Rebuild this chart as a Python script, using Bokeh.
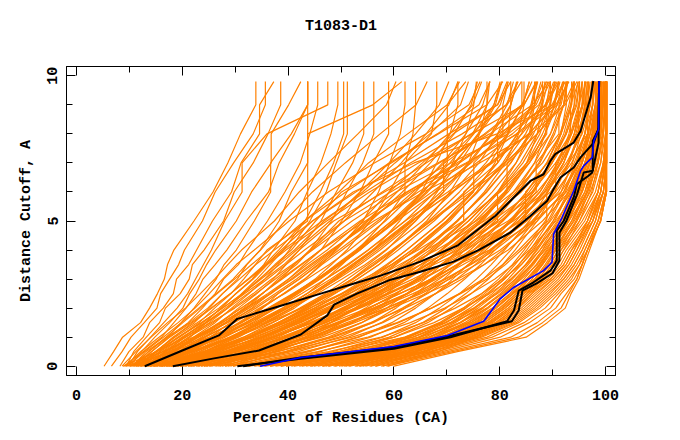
from bokeh.plotting import figure
from bokeh.models import Range1d, LinearAxis, SingleIntervalTicker, CustomJSTickFormatter
from bokeh.embed import file_html
from bokeh.resources import INLINE

TITLE = "T1083-D1"
X_LABEL = "Percent of Residues (CA)"
Y_LABEL = "Distance Cutoff, A"

# distance cutoffs at which every model curve is sampled
CUTOFF = [0.0, 0.5, 1.0, 1.5, 2.0, 2.5, 3.0, 3.5, 4.0, 5.0, 6.0, 7.0, 8.0, 9.0, 9.8]

# percent of residues per model (orange curves), grouped
POOR_A = [
    [5.2, 7.0, 8.7, 12.1, 13.8, 15.3, 16.6, 17.2, 18.4, 22.2, 25.8, 28.6, 31.0, 33.9, 33.9],
    [6.6, 8.6, 10.3, 12.8, 15.2, 15.9, 17.6, 19.3, 20.4, 23.8, 26.2, 29.7, 33.4, 35.7, 35.7],
    [8.2, 9.9, 12.6, 13.8, 16.4, 18.3, 18.9, 21.2, 22.7, 25.7, 29.3, 31.1, 34.6, 34.6, 37.3],
    [9.4, 10.8, 13.2, 15.7, 16.8, 19.6, 21.3, 21.9, 24.1, 27.8, 29.8, 33.4, 36.2, 38.6, 38.6],
    [10.1, 12.3, 14.8, 17.6, 20.1, 21.4, 23.2, 24.6, 26.3, 30.2, 33.1, 36.8, 36.8, 40.1, 42.4],
    [8.9, 12.6, 16.1, 18.4, 20.7, 22.6, 23.9, 26.2, 28.4, 32.1, 36.3, 38.3, 41.2, 43.7, 43.7],
    [10.6, 13.1, 17.2, 19.8, 22.2, 24.3, 26.4, 27.9, 30.2, 33.6, 36.7, 36.7, 40.6, 43.7, 43.7],
    [11.2, 14.2, 17.4, 21.1, 23.8, 26.2, 27.8, 30.6, 32.3, 36.1, 39.4, 42.3, 44.1, 45.6, 45.6],
]
POOR_B = [
    [12.1, 15.6, 19.3, 23.2, 26.1, 29.2, 31.6, 33.8, 36.0, 43.7, 43.7, 43.7, 43.7, 43.7, 43.7],
    [12.4, 16.2, 20.1, 24.3, 27.2, 30.1, 33.2, 35.4, 37.2, 41.3, 43.6, 46.2, 48.1, 49.4, 49.4],
    [13.1, 17.2, 21.2, 25.1, 28.6, 31.2, 34.1, 36.6, 39.1, 43.2, 46.1, 48.6, 50.5, 50.5, 50.5],
    [13.6, 18.1, 22.1, 26.2, 29.3, 32.6, 35.6, 38.1, 40.2, 44.1, 47.2, 49.1, 51.2, 51.2, 51.2],
    [14.1, 18.6, 22.7, 27.2, 30.6, 34.1, 37.2, 39.6, 42.1, 46.2, 49.1, 52.2, 54.3, 54.3, 54.3],
    [14.6, 19.2, 23.6, 28.1, 32.2, 35.1, 38.6, 41.2, 44.1, 48.2, 51.1, 54.1, 56.2, 56.2, 56.2],
    [15.1, 20.1, 25.2, 29.1, 33.1, 36.6, 40.1, 43.1, 46.2, 50.1, 53.6, 56.1, 59.0, 59.0, 59.0],
    [9.8, 11.5, 14.0, 16.5, 19.0, 21.0, 22.5, 24.0, 25.5, 28.0, 31.3, 31.3, 36.0, 47.5, 47.5],
    [11.6, 15.1, 18.2, 22.3, 25.1, 27.6, 30.4, 32.2, 34.7, 38.3, 40.6, 43.7, 43.7, 56.0, 61.5],
]
CROSS = [
    [9.2, 12.1, 15.6, 19.2, 22.4, 25.1, 27.6, 30.2, 33.6, 40.2, 47.6, 56.3, 66.1, 74.2, 76.3],
    [10.4, 13.6, 17.1, 21.3, 24.8, 27.6, 30.8, 33.9, 37.4, 44.6, 52.8, 61.9, 70.4, 79.6, 82.1],
    [11.3, 14.9, 18.6, 22.8, 26.9, 30.2, 33.4, 36.1, 39.6, 47.3, 55.4, 64.6, 74.8, 84.6, 86.9],
    [12.2, 15.8, 19.9, 24.4, 28.1, 31.8, 35.6, 39.2, 42.1, 48.6, 58.2, 68.3, 78.1, 86.2, 89.4],
    [12.8, 16.9, 21.2, 25.8, 29.6, 33.4, 36.9, 40.8, 44.6, 52.1, 60.4, 70.8, 81.6, 88.9, 91.2],
    [13.4, 17.6, 22.4, 27.1, 31.2, 35.1, 38.6, 42.4, 46.2, 54.6, 63.1, 73.6, 83.4, 90.6, 93.1],
    [14.2, 18.4, 23.1, 28.2, 32.6, 36.8, 40.6, 44.2, 48.1, 56.2, 65.6, 76.2, 85.9, 92.4, 94.6],
    [10.8, 14.1, 17.6, 21.6, 25.4, 29.1, 32.4, 35.6, 38.2, 43.1, 49.6, 55.2, 62.6, 70.1, 72.4],
    [9.6, 12.8, 16.4, 19.8, 23.1, 26.4, 29.6, 32.1, 34.8, 39.4, 44.6, 50.8, 57.4, 64.2, 66.3],
    [11.9, 15.2, 19.1, 23.6, 27.6, 31.4, 34.6, 37.8, 41.2, 46.8, 54.1, 60.2, 66.8, 72.6, 74.1],
    [13.8, 18.1, 22.9, 27.6, 31.9, 36.2, 40.1, 43.6, 47.4, 53.9, 59.1, 65.4, 71.2, 79.6, 81.4],
    [15.8, 20.9, 26.1, 30.6, 34.9, 39.2, 43.2, 46.4, 50.2, 57.4, 63.6, 69.6, 77.1, 84.2, 86.1],
    [16.9, 22.6, 28.1, 33.2, 37.6, 41.9, 45.6, 49.1, 52.8, 59.6, 67.2, 74.6, 80.9, 87.4, 89.6],
    [17.8, 24.2, 30.6, 35.8, 40.6, 44.9, 48.6, 52.2, 56.1, 63.2, 71.1, 78.4, 84.2, 88.6, 90.2],
    [8.6, 11.2, 14.1, 17.2, 20.6, 23.4, 26.1, 28.6, 31.2, 37.4, 42.1, 47.6, 53.2, 58.6, 60.4],
]
CROSS2 = [
    [16.1, 21.4, 26.9, 32.1, 36.9, 41.4, 45.6, 49.6, 53.4, 60.6, 67.9, 75.6, 83.1, 89.9, 92.1],
    [14.6, 19.4, 24.4, 29.4, 33.9, 38.1, 42.1, 45.9, 49.6, 56.9, 64.6, 73.9, 82.4, 88.6, 90.9],
    [13.9, 18.1, 22.6, 26.9, 31.1, 35.1, 38.9, 42.6, 46.1, 53.6, 62.4, 71.9, 80.6, 86.9, 88.9],
    [12.9, 16.6, 20.6, 24.6, 28.6, 32.4, 36.1, 39.6, 43.1, 50.6, 59.4, 68.6, 77.4, 84.6, 87.1],
    [11.6, 14.9, 18.4, 21.9, 25.6, 29.1, 32.6, 35.9, 39.1, 46.4, 54.6, 63.1, 72.9, 81.4, 84.1],
    [10.9, 13.6, 16.9, 20.1, 23.4, 26.6, 29.9, 33.1, 36.4, 43.1, 50.9, 59.1, 68.4, 77.6, 80.6],
    [17.4, 23.4, 29.4, 34.9, 39.9, 44.4, 48.6, 52.6, 56.4, 63.4, 70.9, 78.6, 85.4, 90.9, 92.9],
    [19.1, 25.9, 32.4, 38.1, 43.4, 48.1, 52.4, 56.4, 60.1, 66.9, 73.9, 80.9, 87.1, 92.1, 94.1],
]
LOW = [
    [8.8, 15.1, 20.6, 25.4, 29.9, 33.9, 37.6, 41.1, 44.4, 50.6, 56.1, 61.4, 66.1, 70.4, 72.1],
    [9.3, 16.4, 22.9, 28.6, 33.4, 37.6, 41.6, 45.1, 48.6, 54.9, 60.6, 65.9, 70.6, 74.9, 76.6],
    [10.6, 18.1, 25.1, 31.1, 36.4, 41.1, 45.4, 49.4, 53.1, 59.6, 65.4, 70.6, 75.1, 78.9, 80.4],
    [11.1, 19.9, 27.6, 34.1, 39.6, 44.4, 48.9, 53.1, 56.9, 63.6, 69.4, 74.4, 78.6, 82.1, 83.4],
    [12.1, 21.9, 30.1, 36.9, 42.6, 47.6, 52.1, 56.1, 59.9, 66.6, 72.4, 77.4, 81.4, 84.4, 85.6],
    [13.9, 23.9, 32.4, 39.4, 45.1, 50.1, 54.6, 58.6, 62.4, 69.1, 74.9, 79.6, 83.4, 86.1, 87.1],
    [14.4, 25.9, 35.1, 42.4, 48.1, 53.1, 57.6, 61.6, 65.4, 71.9, 77.6, 82.1, 85.6, 88.1, 89.1],
    [16.1, 27.9, 37.4, 44.6, 50.4, 55.4, 59.9, 63.9, 67.6, 74.1, 79.6, 83.9, 87.1, 89.4, 90.4],
    [16.9, 29.9, 39.9, 47.1, 52.9, 57.9, 62.4, 66.4, 70.1, 76.4, 81.6, 85.6, 88.6, 90.9, 91.9],
    [18.9, 31.9, 42.1, 49.6, 55.4, 60.4, 64.9, 68.9, 72.4, 78.6, 83.4, 87.4, 90.1, 92.1, 92.9],
    [19.6, 33.9, 44.4, 51.9, 57.6, 62.6, 66.9, 70.9, 74.4, 80.4, 85.1, 88.9, 91.4, 93.1, 93.9],
    [21.1, 35.9, 46.4, 53.9, 59.6, 64.4, 68.6, 72.4, 75.9, 81.9, 86.4, 89.9, 92.4, 94.1, 94.8],
    [22.6, 37.9, 48.6, 56.1, 61.6, 66.4, 70.4, 74.1, 77.4, 83.1, 87.6, 90.9, 93.4, 94.9, 95.6],
    [24.1, 39.6, 50.4, 57.9, 63.4, 67.9, 71.9, 75.4, 78.6, 84.1, 88.4, 91.6, 94.1, 95.6, 96.2],
    [10.1, 14.9, 19.4, 23.6, 27.6, 31.4, 34.9, 38.4, 41.6, 47.9, 53.6, 59.1, 64.1, 68.6, 70.4],
    [12.9, 20.4, 26.9, 32.6, 37.4, 41.9, 46.1, 49.9, 53.6, 60.1, 66.1, 71.4, 76.1, 80.1, 81.6],
    [15.1, 24.9, 33.6, 40.6, 46.1, 51.1, 55.6, 59.6, 63.4, 70.1, 75.9, 80.9, 84.9, 87.6, 88.6],
    [17.9, 28.9, 38.6, 45.9, 51.6, 56.6, 61.1, 65.1, 68.9, 75.4, 80.9, 85.1, 88.1, 90.4, 91.4],
]
MID_A = [
    [15.6, 21.2, 26.1, 31.2, 35.1, 39.2, 43.1, 46.2, 49.1, 54.2, 57.1, 59.2, 61.2, 62.1, 62.1],
    [16.1, 22.1, 27.6, 32.1, 36.6, 41.2, 45.1, 48.2, 51.1, 55.6, 59.1, 62.2, 63.6, 64.1, 64.1],
    [16.6, 23.1, 29.1, 34.2, 39.1, 43.6, 47.1, 50.2, 53.1, 58.2, 62.1, 62.1, 67.1, 68.1, 68.1],
    [17.1, 24.1, 30.2, 36.1, 41.2, 45.1, 49.2, 52.6, 56.1, 61.1, 65.2, 68.1, 70.6, 72.1, 72.1],
    [17.6, 25.2, 31.6, 37.1, 42.2, 47.1, 51.2, 55.1, 58.6, 64.1, 68.2, 71.1, 73.6, 75.1, 75.6],
    [18.1, 26.1, 32.2, 38.6, 43.6, 48.2, 53.1, 57.2, 60.1, 66.2, 70.6, 74.1, 76.2, 77.6, 78.1],
    [19.1, 27.2, 34.1, 40.2, 46.1, 51.6, 56.2, 60.1, 64.2, 70.6, 75.6, 79.1, 81.6, 82.1, 82.1],
    [20.6, 28.6, 35.6, 42.1, 48.6, 54.1, 59.1, 63.6, 67.6, 74.1, 79.6, 83.1, 85.6, 86.6, 86.6],
    [22.1, 30.1, 37.2, 44.1, 50.6, 56.1, 62.1, 66.1, 70.6, 77.6, 83.1, 86.6, 88.6, 89.6, 89.6],
    [24.1, 32.6, 40.1, 47.1, 53.6, 60.1, 65.6, 70.6, 75.1, 82.1, 87.6, 91.1, 93.1, 94.1, 94.1],
    [26.1, 34.1, 42.1, 49.1, 56.1, 62.6, 68.1, 73.1, 78.1, 85.1, 90.1, 93.1, 95.1, 96.1, 96.1],
    [28.1, 36.1, 44.1, 51.1, 58.6, 65.1, 70.6, 75.6, 80.1, 87.1, 92.1, 95.1, 96.8, 97.5, 97.5],
]
MID_B = [
    [14.0, 17.5, 21.5, 24.5, 28.5, 31.5, 34.6, 37.5, 40.6, 45.2, 50.1, 59.5, 68.2, 76.1, 78.2],
    [15.2, 19.6, 24.1, 28.3, 31.6, 35.2, 38.1, 41.6, 44.2, 49.6, 57.8, 66.1, 74.6, 81.2, 83.5],
    [16.4, 21.6, 26.6, 30.9, 35.2, 38.1, 42.2, 45.6, 48.9, 55.1, 62.6, 72.4, 80.1, 86.6, 88.2],
    [18.6, 24.1, 29.6, 34.7, 39.5, 43.6, 47.1, 51.5, 55.2, 62.1, 70.2, 78.1, 85.6, 90.2, 91.2],
    [19.6, 26.6, 33.1, 38.2, 43.1, 47.6, 52.1, 55.6, 59.6, 67.1, 74.6, 81.6, 87.1, 91.6, 92.6],
    [21.1, 29.1, 36.6, 43.1, 49.1, 55.6, 60.6, 65.1, 69.1, 76.1, 81.1, 85.1, 87.1, 88.1, 88.1],
    [23.1, 31.6, 39.1, 46.1, 52.6, 58.6, 64.6, 69.1, 73.6, 80.6, 86.1, 89.6, 91.6, 92.6, 92.6],
    [25.1, 33.1, 41.1, 48.1, 55.1, 61.1, 67.1, 72.1, 76.6, 83.6, 89.1, 92.1, 94.1, 95.1, 95.1],
    [27.1, 35.1, 43.1, 50.1, 57.1, 63.6, 69.6, 74.6, 79.1, 86.1, 91.1, 94.1, 96.1, 96.8, 96.8],
    [29.1, 37.1, 45.1, 52.6, 59.6, 66.1, 72.1, 77.1, 81.6, 88.1, 93.1, 96.1, 97.6, 98.1, 98.1],
    [13.2, 16.8, 20.3, 23.9, 27.4, 30.1, 33.2, 35.8, 38.7, 44.6, 52.3, 63.8, 79.5, 90.1, 92.4],
    [20.1, 28.1, 35.1, 41.1, 47.1, 53.1, 57.6, 62.1, 66.1, 72.1, 77.1, 81.1, 83.6, 84.6, 84.6],
]
STEP = [
    [19.8, 27.9, 35.2, 41.6, 47.8, 53.6, 58.4, 62.9, 66.8, 73.2, 73.2, 79.6, 79.6, 84.2, 84.2],
    [21.6, 29.8, 37.4, 44.6, 51.2, 56.8, 61.9, 66.4, 70.2, 76.8, 81.4, 81.4, 86.1, 86.1, 87.2],
    [22.9, 31.4, 39.6, 46.9, 53.4, 59.1, 64.4, 68.9, 72.9, 79.6, 79.6, 85.2, 88.9, 88.9, 90.6],
    [24.6, 33.4, 41.9, 49.4, 56.1, 62.4, 67.4, 71.9, 75.9, 82.4, 86.9, 86.9, 91.2, 91.2, 92.9],
    [26.4, 35.6, 44.2, 51.9, 58.6, 64.6, 69.9, 74.4, 78.4, 84.9, 84.9, 89.9, 93.4, 93.4, 94.9],
    [17.9, 25.6, 32.9, 39.1, 44.9, 50.4, 55.1, 59.6, 63.4, 69.9, 75.1, 75.1, 80.6, 80.6, 81.6],
    [15.9, 22.6, 28.9, 34.6, 39.9, 44.9, 49.4, 53.6, 57.4, 64.1, 69.4, 69.4, 74.9, 77.6, 77.6],
    [14.9, 20.9, 26.4, 31.9, 36.9, 41.6, 45.9, 49.9, 53.6, 60.1, 65.6, 70.1, 70.1, 70.1, 73.6],
    [29.6, 39.4, 48.1, 55.6, 62.1, 67.9, 72.9, 77.1, 80.6, 86.4, 90.6, 90.6, 94.9, 94.9, 96.4],
    [32.4, 43.6, 53.1, 60.9, 67.1, 72.4, 76.9, 80.6, 83.6, 88.9, 88.9, 93.1, 96.6, 96.6, 97.9],
]
GOOD_C = [
    [13.5, 22.1, 29.6, 36.1, 42.6, 48.6, 54.1, 59.6, 64.6, 73.1, 80.1, 85.6, 89.6, 92.1, 92.6],
    [14.5, 24.1, 31.6, 38.1, 44.1, 50.1, 56.1, 61.1, 66.1, 75.6, 82.6, 88.1, 91.6, 93.6, 94.1],
    [15.5, 25.6, 33.1, 39.6, 45.6, 51.6, 57.1, 62.6, 68.1, 77.1, 84.1, 89.1, 92.6, 94.6, 95.1],
    [16.5, 27.1, 34.6, 41.1, 46.1, 52.6, 58.1, 64.1, 69.6, 78.6, 86.1, 90.6, 93.6, 95.6, 96.1],
    [17.5, 28.6, 36.1, 42.1, 47.6, 53.6, 59.6, 65.1, 71.1, 80.1, 87.1, 91.6, 94.6, 96.6, 97.1],
    [19.5, 30.6, 38.1, 43.6, 48.6, 54.6, 60.6, 66.6, 72.1, 81.6, 88.6, 92.6, 95.6, 97.1, 97.6],
    [21.5, 32.1, 39.6, 45.1, 50.1, 56.1, 62.1, 67.6, 73.6, 82.6, 89.6, 93.6, 96.1, 97.6, 98.1],
    [23.5, 33.6, 41.1, 46.6, 51.6, 57.6, 63.6, 69.1, 75.1, 84.1, 90.6, 94.6, 96.6, 98.1, 98.6],
    [25.5, 35.6, 43.1, 48.1, 53.1, 59.1, 65.1, 70.6, 76.6, 85.1, 91.6, 95.1, 97.1, 98.6, 99.1],
    [27.5, 37.6, 45.1, 50.1, 55.1, 61.1, 67.1, 72.1, 78.1, 86.6, 92.6, 95.6, 97.6, 98.8, 99.3],
    [18.5, 29.6, 37.1, 44.6, 51.1, 57.1, 62.6, 67.1, 71.6, 79.6, 85.6, 89.6, 92.1, 93.6, 93.6],
    [24.5, 34.6, 42.1, 49.6, 56.6, 62.6, 67.6, 72.1, 76.1, 83.6, 88.6, 92.1, 94.1, 95.6, 95.6],
]
BAND = [
    [10.2, 17.6, 24.1, 29.8, 34.6, 39.4, 43.6, 47.8, 51.6, 58.4, 64.1, 69.2, 73.6, 76.8, 78.1],
    [11.4, 19.6, 26.8, 32.6, 37.8, 42.6, 47.1, 51.2, 55.1, 62.1, 67.8, 72.4, 76.1, 79.2, 80.4],
    [12.6, 21.4, 29.2, 35.4, 40.6, 45.6, 50.2, 54.6, 58.4, 65.4, 71.2, 76.1, 79.6, 82.1, 83.2],
    [14.8, 24.6, 32.8, 39.1, 44.2, 48.9, 53.1, 57.2, 60.8, 67.6, 73.4, 78.2, 81.6, 84.4, 85.6],
    [17.2, 28.4, 37.2, 43.6, 48.4, 52.6, 56.8, 60.4, 63.9, 70.2, 75.8, 80.6, 84.1, 86.6, 87.8],
    [20.4, 32.6, 41.6, 47.9, 52.6, 56.8, 60.6, 64.1, 67.2, 73.4, 78.6, 83.1, 86.4, 88.8, 89.6],
    [23.6, 36.4, 45.8, 52.1, 56.8, 60.6, 64.2, 67.4, 70.6, 76.4, 81.2, 85.6, 88.6, 90.4, 91.1],
    [26.8, 40.1, 49.6, 55.8, 60.4, 64.1, 67.6, 70.6, 73.4, 79.1, 83.6, 87.6, 90.4, 92.1, 92.8],
    [38.6, 52.4, 62.1, 68.6, 73.1, 76.6, 79.8, 82.4, 84.6, 88.6, 91.6, 93.8, 95.4, 96.4, 96.8],
    [40.6, 54.1, 63.6, 69.9, 74.4, 77.9, 80.9, 83.6, 85.8, 89.4, 92.4, 94.6, 96.1, 97.1, 97.4],
    [43.4, 56.6, 65.9, 71.6, 75.9, 79.4, 82.4, 84.9, 86.9, 90.4, 93.1, 95.4, 96.8, 97.6, 97.9],
    [46.4, 58.9, 67.6, 73.4, 77.6, 80.9, 83.6, 86.1, 88.1, 91.4, 94.1, 96.2, 97.4, 98.1, 98.4],
    [48.9, 60.6, 69.1, 74.6, 78.6, 81.9, 84.6, 86.9, 88.9, 92.1, 94.8, 96.6, 97.9, 98.6, 98.8],
    [51.4, 62.4, 70.6, 75.9, 79.9, 83.1, 85.6, 87.9, 89.6, 92.9, 95.4, 97.1, 98.4, 99.1, 99.2],
    [54.1, 64.4, 71.9, 77.1, 80.9, 84.1, 86.6, 88.6, 90.4, 93.6, 96.1, 97.6, 98.9, 99.4, 99.6],
    [56.4, 66.1, 73.4, 78.4, 82.1, 85.1, 87.4, 89.4, 91.1, 94.4, 96.6, 98.1, 99.2, 99.6, 99.8],
    [58.9, 68.4, 75.4, 79.9, 83.4, 86.1, 88.4, 90.4, 92.1, 95.1, 97.4, 98.6, 99.6, 100.0, 100.1],
    [30.6, 44.1, 53.4, 59.6, 64.1, 67.9, 71.1, 74.1, 76.9, 82.1, 86.4, 89.9, 92.6, 94.4, 95.1],
    [34.4, 48.4, 57.9, 64.1, 68.6, 72.4, 75.6, 78.4, 80.9, 85.6, 89.1, 92.1, 94.4, 95.8, 96.2],
    [36.6, 50.6, 60.1, 66.4, 70.9, 74.6, 77.9, 80.6, 82.9, 87.1, 90.4, 93.1, 95.1, 96.2, 96.6],
]
BAND2 = [
    [9.9, 16.2, 22.1, 27.4, 32.1, 36.6, 40.9, 44.6, 48.4, 55.6, 61.6, 66.9, 71.4, 74.6, 75.8],
    [11.9, 18.9, 25.4, 31.1, 36.2, 40.9, 45.4, 49.4, 53.2, 60.4, 66.4, 71.6, 75.9, 78.9, 80.1],
    [13.1, 20.6, 27.6, 33.6, 38.9, 43.6, 48.1, 52.1, 55.9, 62.9, 68.9, 74.1, 78.4, 81.4, 82.6],
    [15.9, 26.4, 34.9, 41.4, 46.4, 50.9, 55.1, 58.9, 62.4, 69.1, 74.9, 79.6, 83.4, 85.9, 86.9],
    [18.4, 30.4, 39.4, 45.9, 50.6, 54.9, 58.9, 62.4, 65.6, 71.9, 77.4, 82.1, 85.6, 87.9, 88.6],
    [21.9, 34.4, 43.6, 49.9, 54.6, 58.6, 62.4, 65.6, 68.9, 74.9, 79.9, 84.4, 87.6, 89.6, 90.4],
    [25.1, 38.1, 47.6, 53.9, 58.6, 62.4, 65.9, 69.1, 72.1, 77.9, 82.6, 86.6, 89.6, 91.4, 92.1],
    [28.1, 41.9, 51.4, 57.6, 62.1, 65.9, 69.4, 72.4, 75.1, 80.6, 85.1, 88.9, 91.6, 93.4, 94.1],
    [32.1, 46.1, 55.6, 61.9, 66.4, 70.1, 73.4, 76.4, 79.1, 84.1, 88.1, 91.4, 93.6, 95.1, 95.6],
    [35.4, 49.6, 59.1, 65.4, 69.9, 73.6, 76.9, 79.6, 82.1, 86.6, 90.1, 92.9, 94.9, 96.1, 96.6],
    [39.6, 53.4, 62.9, 69.1, 73.6, 77.1, 80.4, 82.9, 85.1, 89.1, 92.1, 94.4, 96.1, 97.1, 97.4],
    [42.1, 55.6, 64.6, 70.6, 75.1, 78.6, 81.6, 84.1, 86.4, 90.1, 92.9, 95.1, 96.6, 97.6, 97.9],
    [44.9, 57.9, 66.6, 72.4, 76.6, 80.1, 82.9, 85.4, 87.6, 91.1, 93.6, 95.6, 97.1, 98.1, 98.4],
    [47.6, 59.6, 68.1, 73.9, 77.9, 81.1, 83.9, 86.4, 88.4, 91.9, 94.4, 96.4, 97.6, 98.4, 98.6],
    [50.1, 61.6, 69.9, 75.1, 79.1, 82.4, 85.1, 87.4, 89.4, 92.6, 95.1, 96.9, 98.1, 98.9, 99.1],
    [52.9, 63.6, 71.4, 76.4, 80.4, 83.6, 86.1, 88.1, 89.9, 93.1, 95.6, 97.4, 98.6, 99.2, 99.4],
    [55.4, 65.4, 72.9, 77.9, 81.6, 84.6, 86.9, 88.9, 90.6, 93.9, 96.4, 97.9, 98.9, 99.5, 99.7],
    [57.9, 67.4, 74.6, 79.4, 82.9, 85.6, 87.9, 89.9, 91.6, 94.6, 96.9, 98.4, 99.4, 99.9, 100.0],
    [53.4, 62.9, 70.1, 75.4, 79.4, 82.6, 85.4, 87.6, 89.4, 92.4, 94.9, 96.9, 98.1, 98.9, 99.1],
    [50.9, 59.4, 66.9, 72.6, 76.9, 80.4, 83.4, 85.9, 88.1, 91.6, 94.4, 96.4, 97.9, 98.6, 98.9],
    [47.1, 56.9, 64.9, 70.9, 75.4, 79.1, 82.1, 84.9, 87.1, 90.9, 93.9, 96.1, 97.6, 98.4, 98.6],
    [44.4, 54.4, 62.6, 68.9, 73.6, 77.6, 80.9, 83.6, 86.1, 90.1, 93.4, 95.6, 97.1, 98.1, 98.4],
]
GOOD_A = [
    [28.6, 40.6, 52.1, 60.6, 67.1, 72.6, 77.6, 81.1, 84.1, 89.6, 93.6, 96.1, 97.6, 98.6, 98.6],
    [29.6, 43.1, 55.1, 63.1, 69.6, 74.6, 79.1, 82.6, 85.6, 90.6, 94.6, 96.6, 98.1, 98.8, 98.8],
    [30.6, 45.6, 57.6, 65.6, 71.6, 76.6, 80.6, 84.1, 86.6, 91.6, 95.1, 97.1, 98.6, 99.1, 99.1],
    [31.6, 47.6, 60.1, 67.6, 73.1, 78.1, 82.1, 85.1, 87.6, 92.1, 95.6, 97.6, 98.8, 99.3, 99.3],
    [32.6, 49.6, 62.1, 69.6, 75.1, 79.6, 83.1, 86.1, 88.6, 92.6, 96.1, 98.1, 99.1, 99.6, 99.6],
    [33.6, 51.1, 63.6, 71.1, 76.6, 80.6, 84.1, 87.1, 89.1, 93.1, 96.6, 98.6, 99.6, 99.8, 99.8],
    [34.6, 52.6, 65.1, 72.6, 77.6, 81.1, 85.1, 87.6, 89.6, 93.6, 96.6, 98.6, 99.6, 100.0, 100.0],
    [35.6, 54.1, 66.6, 74.1, 78.6, 82.1, 85.6, 88.1, 90.1, 94.1, 97.1, 99.1, 99.6, 100.0, 100.0],
    [36.6, 55.1, 67.6, 74.6, 79.1, 82.6, 86.6, 89.1, 90.6, 94.6, 97.6, 99.1, 100.0, 100.2, 100.2],
    [37.6, 56.1, 68.6, 75.6, 80.1, 83.1, 87.1, 89.6, 91.1, 95.1, 98.1, 99.6, 100.2, 100.2, 100.2],
    [38.6, 57.1, 69.6, 76.6, 80.6, 83.6, 87.6, 90.1, 91.6, 95.6, 98.6, 99.6, 100.2, 100.2, 100.2],
    [39.6, 57.6, 70.6, 77.1, 81.1, 84.1, 88.1, 90.6, 92.1, 96.1, 98.6, 99.8, 100.2, 100.2, 100.2],
    [41.1, 58.6, 71.1, 77.6, 81.6, 84.6, 88.6, 91.1, 92.6, 96.6, 99.1, 100.0, 100.2, 100.2, 100.2],
    [42.6, 59.1, 71.6, 78.1, 82.1, 85.1, 89.1, 91.6, 93.1, 97.1, 99.6, 100.2, 100.2, 100.2, 100.2],
    [44.1, 59.6, 72.1, 78.6, 82.6, 85.6, 89.6, 92.1, 93.6, 97.6, 99.6, 100.2, 100.2, 100.2, 100.2],
]
GOOD_B = [
    [45.6, 60.1, 72.6, 79.1, 83.1, 86.1, 89.6, 92.1, 93.6, 96.6, 98.6, 99.6, 100.2, 100.2, 100.2],
    [46.6, 61.1, 73.1, 79.6, 83.6, 86.6, 90.1, 92.6, 94.1, 97.1, 99.1, 100.0, 100.2, 100.2, 100.2],
    [47.6, 62.1, 73.6, 80.1, 84.1, 87.1, 90.1, 92.6, 94.1, 96.6, 98.6, 99.6, 100.0, 100.0, 100.0],
    [48.6, 62.6, 74.1, 80.6, 84.6, 87.6, 90.6, 93.1, 94.6, 97.1, 99.1, 99.8, 100.2, 100.2, 100.2],
    [49.6, 63.6, 74.6, 81.1, 85.1, 88.1, 91.1, 93.1, 94.6, 97.6, 99.1, 100.0, 100.2, 100.2, 100.2],
    [50.6, 64.1, 75.1, 81.6, 85.6, 88.6, 91.6, 93.6, 95.1, 97.6, 99.6, 100.2, 100.2, 100.2, 100.2],
    [51.6, 65.1, 75.6, 82.1, 86.1, 89.1, 92.1, 94.1, 95.6, 98.1, 99.6, 100.2, 100.2, 100.2, 100.2],
    [52.6, 65.6, 76.1, 82.6, 86.6, 89.6, 92.1, 94.1, 95.6, 98.1, 99.6, 100.2, 100.2, 100.2, 100.2],
    [53.6, 66.6, 76.6, 83.1, 87.1, 90.1, 92.6, 94.6, 96.1, 98.6, 100.0, 100.2, 100.2, 100.2, 100.2],
    [54.6, 67.1, 77.6, 83.6, 87.6, 90.6, 93.1, 95.1, 96.1, 98.6, 100.0, 100.2, 100.2, 100.2, 100.2],
    [55.6, 68.1, 78.6, 84.6, 88.6, 91.1, 93.6, 95.1, 96.6, 98.6, 100.2, 100.2, 100.2, 100.2, 100.2],
    [56.6, 69.1, 80.1, 85.6, 89.6, 91.6, 94.1, 95.6, 96.6, 99.1, 100.2, 100.2, 100.2, 100.2, 100.2],
    [57.6, 70.1, 82.1, 87.1, 90.6, 92.6, 94.6, 95.6, 96.6, 99.1, 100.2, 100.2, 100.2, 100.2, 100.2],
    [58.6, 71.1, 83.6, 88.1, 91.6, 93.1, 94.6, 95.6, 96.6, 99.1, 100.2, 100.2, 100.2, 100.2, 100.2],
    [60.0, 72.0, 85.0, 89.0, 92.4, 93.5, 95.0, 96.0, 97.0, 99.0, 100.2, 100.2, 100.2, 100.2, 100.2],
]

# highlighted models (black) and the reference model (blue)
BLACK1_X = [12.9, 20.0, 26.9, 30.4, 38.0, 46.0, 52.0, 57.5, 65.0, 72.0, 79.2, 85.8, 88.3, 89.6, 90.5, 94.0, 95.3, 97.2, 97.7]
BLACK1_Y = [0.0, 0.54, 1.06, 1.63, 2.05, 2.49, 2.82, 3.12, 3.6, 4.15, 5.18, 6.38, 6.61, 7.07, 7.3, 7.7, 8.1, 9.25, 9.82]
BLACK2_X = [18.2, 26.0, 34.5, 42.4, 47.4, 48.7, 53.0, 59.4, 65.0, 71.3, 76.0, 82.0, 85.8, 89.0, 90.2, 91.5, 94.0, 95.3, 97.8, 98.7, 98.8]
BLACK2_Y = [0.0, 0.27, 0.54, 1.09, 1.75, 2.12, 2.5, 2.98, 3.25, 3.6, 4.0, 4.6, 5.17, 5.7, 6.1, 6.5, 6.84, 7.19, 7.7, 8.2, 9.82]
BLACK3_X = [30.4, 42.4, 60.0, 70.7, 81.4, 82.7, 83.6, 86.4, 89.6, 90.8, 90.8, 92.1, 94.0, 94.6, 96.8, 97.5, 98.7, 98.7, 98.8]
BLACK3_Y = [0.0, 0.26, 0.6, 1.0, 1.55, 1.92, 2.6, 2.89, 3.29, 3.64, 4.67, 5.0, 5.81, 6.27, 6.56, 6.67, 7.7, 8.16, 9.82]
BLACK4_X = [31.5, 42.4, 60.0, 70.7, 82.3, 83.6, 84.3, 87.0, 90.0, 91.3, 91.3, 92.6, 94.6, 95.9, 97.6, 97.6, 98.7, 98.8]
BLACK4_Y = [0.0, 0.3, 0.65, 1.05, 1.55, 1.92, 2.6, 2.85, 3.2, 3.64, 4.6, 5.0, 5.9, 6.67, 6.73, 7.76, 8.16, 9.82]
BLUE_X = [34.7, 42.4, 60.0, 70.1, 77.0, 80.1, 82.7, 88.3, 89.9, 90.2, 91.8, 94.0, 95.3, 95.9, 97.5, 97.8, 98.7, 98.8]
BLUE_Y = [0.0, 0.3, 0.68, 1.06, 1.55, 2.32, 2.72, 3.29, 3.58, 4.55, 5.12, 6.04, 6.73, 6.9, 7.19, 7.76, 8.16, 9.82]

FONT = "Liberation Mono"
FS = "15px"
ORANGE = "#ff8000"

p = figure(width=664, height=431, output_backend="svg", toolbar_location=None,
           x_range=Range1d(-1.9, 101.9), y_range=Range1d(-0.32, 10.32),
           x_axis_location=None, y_axis_location=None, title=None)
p.min_border_left = 66
p.min_border_right = 49
p.min_border_top = 66
p.min_border_bottom = 56
p.grid.visible = False
p.outline_line_color = "black"
p.outline_line_width = 1
p.background_fill_color = "white"
p.border_fill_color = "white"

BLANK = CustomJSTickFormatter(code="return ''")


def style_axis(ax, show_labels):
    ax.axis_line_color = "black"
    ax.major_tick_in = 9
    ax.major_tick_out = 0
    ax.minor_tick_in = 6
    ax.minor_tick_out = 0
    ax.major_tick_line_color = "black"
    ax.minor_tick_line_color = "black"
    ax.major_label_text_font = FONT
    ax.major_label_text_font_style = "bold"
    ax.major_label_text_font_size = FS
    ax.major_label_text_color = "black"
    ax.axis_label_text_font = FONT
    ax.axis_label_text_font_style = "bold"
    ax.axis_label_text_font_size = FS
    ax.axis_label_text_color = "black"
    if not show_labels:
        ax.formatter = BLANK
        ax.major_label_standoff = 0


xb = LinearAxis(ticker=SingleIntervalTicker(interval=20, num_minor_ticks=2), axis_label=X_LABEL)
style_axis(xb, True)
xb.major_label_standoff = 14
xb.axis_label_standoff = 7
p.add_layout(xb, "below")

# top mirror axis: its label carries the chart title
xt = LinearAxis(ticker=SingleIntervalTicker(interval=20, num_minor_ticks=2), axis_label=TITLE)
style_axis(xt, False)
xt.axis_label_standoff = 32
p.add_layout(xt, "above")

yl = LinearAxis(ticker=SingleIntervalTicker(interval=5, num_minor_ticks=5), axis_label=Y_LABEL)
style_axis(yl, True)
yl.major_label_orientation = "vertical"
yl.major_label_standoff = 9
yl.axis_label_standoff = 10
p.add_layout(yl, "left")

yr = LinearAxis(ticker=SingleIntervalTicker(interval=5, num_minor_ticks=5))
style_axis(yr, False)
p.add_layout(yr, "right")

for group in (POOR_A, POOR_B, CROSS, CROSS2, LOW, MID_A, MID_B, STEP, GOOD_C, BAND, BAND2, GOOD_A, GOOD_B):
    p.multi_line(xs=group, ys=[CUTOFF] * len(group), line_color=ORANGE, line_width=1.2)

for bx, by in ((BLACK1_X, BLACK1_Y), (BLACK2_X, BLACK2_Y), (BLACK3_X, BLACK3_Y), (BLACK4_X, BLACK4_Y)):
    p.line(bx, by, line_color="black", line_width=2)
p.line(BLUE_X, BLUE_Y, line_color="#0000ff", line_width=1.6)

open("out.html", "w").write(file_html(p, INLINE))
